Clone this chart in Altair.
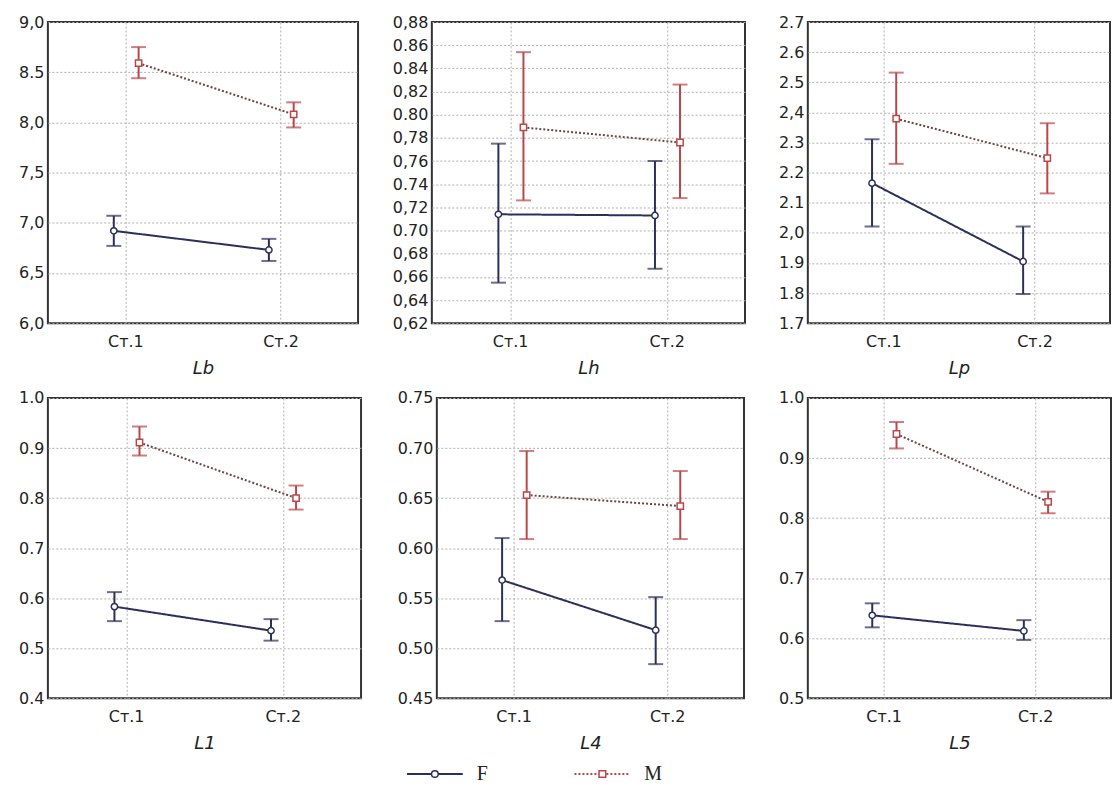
import altair as alt
import pandas as pd

stages = ["Ст.1", "Ст.2"]
series = ["F", "M"]
panel_names = ["Lb", "Lh", "Lp", "L1", "L4", "L5"]

# ---- values: [Ст.1, Ст.2] ----
lb_f_mean = [6.92, 6.73]; lb_f_lo = [6.77, 6.62]; lb_f_hi = [7.07, 6.84]
lb_m_mean = [8.59, 8.08]; lb_m_lo = [8.44, 7.95]; lb_m_hi = [8.75, 8.20]

lh_f_mean = [0.714, 0.713]; lh_f_lo = [0.655, 0.667]; lh_f_hi = [0.775, 0.760]
lh_m_mean = [0.789, 0.776]; lh_m_lo = [0.726, 0.728]; lh_m_hi = [0.854, 0.826]

lp_f_mean = [2.165, 1.905]; lp_f_lo = [2.021, 1.797]; lp_f_hi = [2.311, 2.021]
lp_m_mean = [2.379, 2.248]; lp_m_lo = [2.229, 2.131]; lp_m_hi = [2.532, 2.364]

l1_f_mean = [0.583, 0.535]; l1_f_lo = [0.554, 0.515]; l1_f_hi = [0.612, 0.558]
l1_m_mean = [0.911, 0.800]; l1_m_lo = [0.885, 0.777]; l1_m_hi = [0.943, 0.825]

l4_f_mean = [0.568, 0.518]; l4_f_lo = [0.527, 0.484]; l4_f_hi = [0.610, 0.551]
l4_m_mean = [0.653, 0.642]; l4_m_lo = [0.609, 0.609]; l4_m_hi = [0.697, 0.677]

l5_f_mean = [0.638, 0.612]; l5_f_lo = [0.618, 0.597]; l5_f_hi = [0.658, 0.630]
l5_m_mean = [0.940, 0.827]; l5_m_lo = [0.916, 0.808]; l5_m_hi = [0.960, 0.844]

# ---- y-axis ticks and labels ----
lb_ticks = [6.0, 6.5, 7.0, 7.5, 8.0, 8.5, 9.0]
lb_labels = ["6,0", "6,5", "7,0", "7,5", "8,0", "8.5", "9,0"]
lh_ticks = [0.62, 0.64, 0.66, 0.68, 0.70, 0.72, 0.74, 0.76, 0.78, 0.80, 0.82, 0.84, 0.86, 0.88]
lh_labels = ["0,62", "0,64", "0,66", "0,68", "0.70", "0,72", "0.74", "0,76", "0,78", "0.80", "0,82", "0.84", "0.86", "0,88"]
lp_ticks = [1.7, 1.8, 1.9, 2.0, 2.1, 2.2, 2.3, 2.4, 2.5, 2.6, 2.7]
lp_labels = ["1.7", "1.8", "1.9", "2,0", "2.1", "2.2", "2.3", "2,4", "2.5", "2.6", "2.7"]
l1_ticks = [0.4, 0.5, 0.6, 0.7, 0.8, 0.9, 1.0]
l1_labels = ["0.4", "0.5", "0.6", "0.7", "0.8", "0.9", "1.0"]
l4_ticks = [0.45, 0.50, 0.55, 0.60, 0.65, 0.70, 0.75]
l4_labels = ["0.45", "0.50", "0.55", "0.60", "0.65", "0.70", "0.75"]
l5_ticks = [0.5, 0.6, 0.7, 0.8, 0.9, 1.0]
l5_labels = ["0.5", "0.6", "0.7", "0.8", "0.9", "1.0"]

# ---- styles ----
NAVY = "#2c2f5b"
RED = "#b9474a"
MLINE = "#6e4447"
line_colors = [NAVY, MLINE]
err_colors = [NAVY, RED]
dashes = [[1, 0], [2, 2]]
shapes = ["circle", "square"]
FONT = "DejaVu Sans"


def label_expr(values, labels):
    expr = ""
    for v, l in zip(values, labels):
        expr += f"abs(datum.value - {v}) < 1e-9 ? '{l}' : "
    return expr + "''"


def panel(name, f_mean, f_lo, f_hi, m_mean, m_lo, m_hi, ticks, labels, w, h, yext):
    rows = []
    for s, mean, lo, hi in (("F", f_mean, f_lo, f_hi), ("M", m_mean, m_lo, m_hi)):
        for i, st in enumerate(stages):
            rows.append({"stage": i + 1, "series": s, "mean": mean[i], "lo": lo[i], "hi": hi[i]})
    df = pd.DataFrame(rows)

    x = alt.X("xpos:Q",
              scale=alt.Scale(domain=[0.5, 2.5], nice=False, zero=False),
              axis=alt.Axis(values=[1, 2],
                            labelExpr=label_expr([1, 2], stages),
                            title=name, grid=True, ticks=False, domain=False,
                            labelPadding=10, labelFontSize=16,
                            titleFontSize=18, titleFontStyle="italic",
                            titleFontWeight="normal", titlePadding=8,
                            minExtent=28, maxExtent=28))
    yscale = alt.Scale(domain=[ticks[0], ticks[-1]], nice=False, zero=False)
    yaxis = alt.Axis(values=ticks, labelExpr=label_expr(ticks, labels),
                     grid=True, ticks=False, domain=False, title=None,
                     labelPadding=4, labelFontSize=16, labelOverlap=False,
                     labelSeparation=0,
                     minExtent=yext, maxExtent=yext)

    base = alt.Chart(df).transform_calculate(
        xpos="datum.stage + (datum.series == 'F' ? -0.075 : 0.085)"
    )
    stroke_err = alt.Stroke("series:N", scale=alt.Scale(domain=series, range=err_colors), legend=None)

    line = base.mark_line(strokeWidth=2).encode(
        x=x,
        y=alt.Y("mean:Q", scale=yscale, axis=yaxis),
        color=alt.Color("series:N", scale=alt.Scale(domain=series, range=line_colors), legend=None),
        strokeDash=alt.StrokeDash("series:N", scale=alt.Scale(domain=series, range=dashes), legend=None),
        detail="series:N",
    )
    rule = base.mark_rule(strokeWidth=2).encode(
        x="xpos:Q", y=alt.Y("lo:Q", axis=yaxis), y2="hi:Q", stroke=stroke_err,
    )
    caps = base.transform_fold(["lo", "hi"], as_=["end", "val"]).mark_tick(
        orient="horizontal", size=15, thickness=2
    ).encode(
        x="xpos:Q", y=alt.Y("val:Q", axis=yaxis),
        color=alt.Color("series:N", scale=alt.Scale(domain=series, range=err_colors), legend=None),
    )
    pts = base.mark_point(filled=True, strokeWidth=1.5, size=40, opacity=1).encode(
        x="xpos:Q", y=alt.Y("mean:Q", axis=yaxis),
        shape=alt.Shape("series:N", scale=alt.Scale(domain=series, range=shapes), legend=None),
        stroke=stroke_err,
        fill=alt.value("white"),
    )
    return alt.layer(line, rule, caps, pts).resolve_scale(color="independent").properties(width=w, height=h)


p1 = panel("Lb", lb_f_mean, lb_f_lo, lb_f_hi, lb_m_mean, lb_m_lo, lb_m_hi, lb_ticks, lb_labels, 311, 302, 37)
p2 = panel("Lh", lh_f_mean, lh_f_lo, lh_f_hi, lh_m_mean, lh_m_lo, lh_m_hi, lh_ticks, lh_labels, 314, 302, 52)
p3 = panel("Lp", lp_f_mean, lp_f_lo, lp_f_hi, lp_m_mean, lp_m_lo, lp_m_hi, lp_ticks, lp_labels, 303, 302, 41)
p4 = panel("L1", l1_f_mean, l1_f_lo, l1_f_hi, l1_m_mean, l1_m_lo, l1_m_hi, l1_ticks, l1_labels, 314, 301, 36)
p5 = panel("L4", l4_f_mean, l4_f_lo, l4_f_hi, l4_m_mean, l4_m_lo, l4_m_hi, l4_ticks, l4_labels, 308, 301, 54)
p6 = panel("L5", l5_f_mean, l5_f_lo, l5_f_hi, l5_m_mean, l5_m_lo, l5_m_hi, l5_ticks, l5_labels, 304, 301, 42)

row1 = alt.hconcat(p1, p2, p3, spacing=20)
row2 = alt.hconcat(p4, p5, p6, spacing=20)

# ---- legend row ----
LEG_H = 10
leg_df = pd.DataFrame({"series": series})
lx = alt.X("idx:Q", scale=alt.Scale(domain=[-2.31, 3.655], nice=False, zero=False), axis=None)
leg_base = alt.Chart(leg_df).transform_calculate(idx="indexof(['F', 'M'], datum.series)")
leg_line = leg_base.mark_rule(strokeWidth=2, xOffset=-28, x2Offset=28).encode(
    x=lx, x2="idx:Q", y=alt.value(LEG_H / 2),
    color=alt.Color("series:N", scale=alt.Scale(domain=series, range=[NAVY, RED]), legend=None),
    strokeDash=alt.StrokeDash("series:N", scale=alt.Scale(domain=series, range=dashes), legend=None),
)
leg_pt = leg_base.mark_point(filled=True, strokeWidth=1.5, size=45, opacity=1).encode(
    x=lx, y=alt.value(LEG_H / 2),
    shape=alt.Shape("series:N", scale=alt.Scale(domain=series, range=shapes), legend=None),
    stroke=alt.Stroke("series:N", scale=alt.Scale(domain=series, range=err_colors), legend=None),
    fill=alt.value("white"),
)
leg_txt = leg_base.mark_text(align="left", dx=42, font="Liberation Serif", fontSize=20, color="#222").encode(
    x=lx, y=alt.value(LEG_H / 2), text="series:N",
)
legend = alt.layer(leg_line, leg_pt, leg_txt).properties(width=1002, height=LEG_H, view=alt.ViewConfig(stroke=None))

chart = alt.vconcat(row1, row2, legend, spacing=11).properties(
    padding={"left": 2, "top": 4, "right": 0, "bottom": 0},
    background="white",
).configure_view(
    stroke="#333", strokeWidth=2
).configure_axis(
    labelFont=FONT, titleFont=FONT, labelColor="#222", titleColor="#222",
    gridColor="#b0b0b0", gridDash=[2, 2], gridWidth=1, gridOpacity=1,
).configure_axisY(labelOverlap=False)

chart.save("out.html", embed_options={"renderer": "svg", "actions": False})
